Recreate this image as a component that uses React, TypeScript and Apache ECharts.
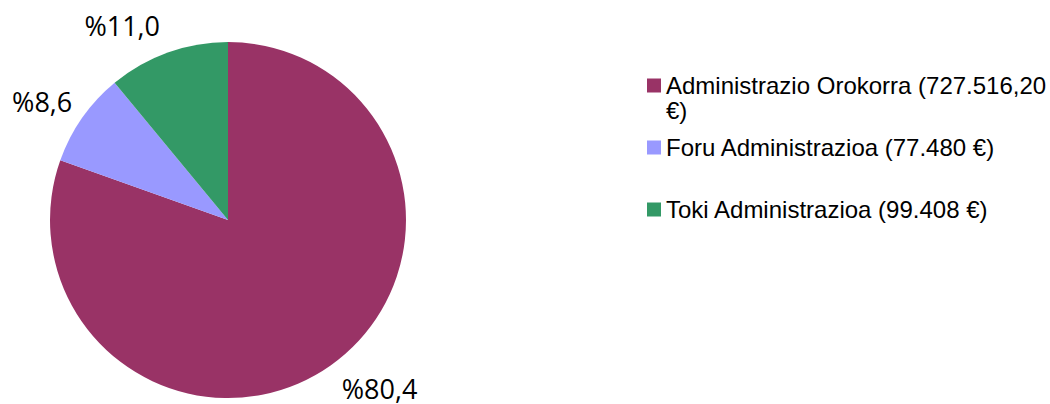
import React, { useEffect, useRef } from "react";
import * as echarts from "echarts";

const categories = [
  "Administrazio Orokorra (727.516,20 €)",
  "Foru Administrazioa (77.480 €)",
  "Toki Administrazioa (99.408 €)",
];
const legendLines = [
  ["Administrazio Orokorra (727.516,20", "€)"],
  ["Foru Administrazioa (77.480 €)"],
  ["Toki Administrazioa (99.408 €)"],
];
const values = [727516.2, 77480, 99408];
const percentLabels = ["%80,4", "%8,6", "%11,0"];
const colors = ["#993366", "#9999FF", "#339966"];

export default function App() {
  const ref = useRef<HTMLDivElement>(null);
  useEffect(() => {
    if (!ref.current) return;
    const chart = echarts.init(ref.current, null, { renderer: "svg" });
    const lineLen = [28, 28, 28.7];
    const dist = [-5, -13, -2];
    const legendTops = [48, 135, 197];
    const legendText = {
      fontFamily: "'Liberation Sans', Arial, sans-serif",
      fontSize: 24,
      color: "#000",
      lineHeight: 25,
    };
    chart.setOption({
      animation: false,
      legend: categories.map((c, i) => ({
        orient: "vertical",
        left: 647,
        top: legendTops[i],
        padding: 0,
        itemWidth: 14,
        itemHeight: 14,
        itemGap: 0,
        icon: "rect",
        selectedMode: false,
        data: [c],
        formatter: () =>
          legendLines[i].length > 1 ? "\n" + legendLines[i].join("\n") : legendLines[i][0],
        textStyle: legendText,
      })),
      series: [
        {
          type: "pie",
          center: [228, 220],
          radius: 178,
          startAngle: 90,
          clockwise: true,
          avoidLabelOverlap: false,
          data: categories.map((name, i) => ({
            name,
            value: values[i],
            itemStyle: { color: colors[i] },
            label: { distanceToLabelLine: dist[i] },
            labelLine: { length: lineLen[i], length2: 0 },
          })),
          label: {
            show: true,
            position: "outside",
            formatter: (p: any) => percentLabels[p.dataIndex],
            fontFamily: "'Open Sans', 'Noto Sans', sans-serif",
            fontSize: 27,
            lineHeight: 22,
            color: "#000",
          },
          labelLine: { show: false },
          itemStyle: { borderWidth: 0 },
          emphasis: { disabled: true },
        },
      ],
    });
    return () => chart.dispose();
  }, []);
  return (
    <div
      ref={ref}
      style={{ position: "fixed", left: 0, top: 0, width: 1050, height: 404, background: "#fff" }}
    />
  );
}
